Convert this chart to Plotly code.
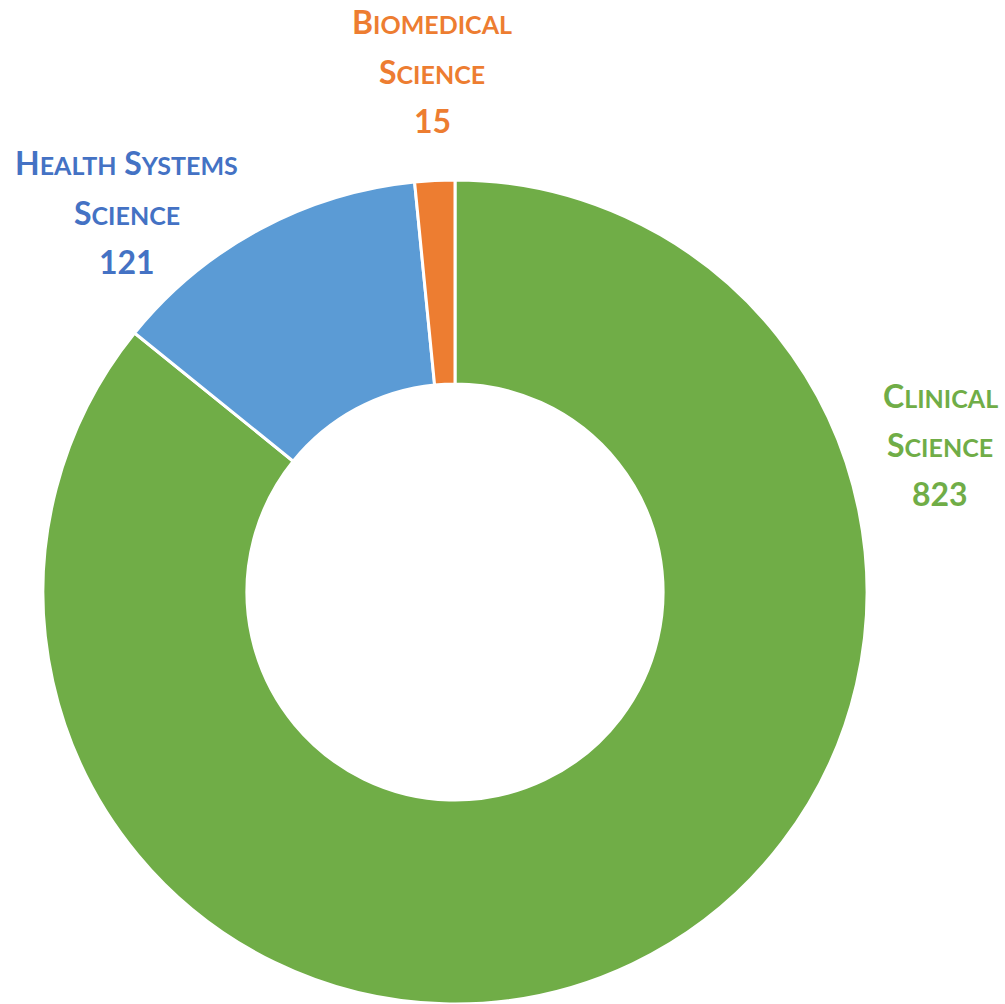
import plotly.graph_objects as go

categories = ["Clinical Science", "Health Systems Science", "Biomedical Science"]
counts = [823, 121, 15]
slice_colors = ["#70AD47", "#5B9BD5", "#ED7D31"]
label_colors = ["#70AD47", "#4472C4", "#ED7D31"]

W, H = 1005, 1004
CX, CY, R = 455, 592, 412

# label anchor (center of first line) in pixels
label_pos = [(940, 395), (127, 163), (432, 22)]
LINE_GAP = 49
BIG, SMALL = 32, 25


def small_caps(word):
    return word[0] + "<span style='font-size:%dpx'>%s</span>" % (SMALL, word[1:].upper())


def label_lines(name, value):
    words = name.split()
    if len(words) == 3:
        first = " ".join(small_caps(w) for w in words[:2])
        rest = words[2:]
    else:
        first = small_caps(words[0])
        rest = words[1:]
    return [first, " ".join(small_caps(w) for w in rest), str(value)]


fig = go.Figure(
    go.Pie(
        labels=categories,
        values=counts,
        hole=0.505,
        sort=False,
        direction="clockwise",
        rotation=0,
        marker=dict(colors=slice_colors, line=dict(color="white", width=3)),
        textinfo="none",
        hoverinfo="label+value",
        domain=dict(x=[(CX - R) / W, (CX + R) / W], y=[(H - CY - R) / H, (H - CY + R) / H]),
    )
)

annotations = []
for name, value, color, (px, py) in zip(categories, counts, label_colors, label_pos):
    for i, line in enumerate(label_lines(name, value)):
        annotations.append(
            dict(
                text=line,
                x=px / W,
                y=1 - (py + i * LINE_GAP) / H,
                xref="paper",
                yref="paper",
                xanchor="center",
                yanchor="middle",
                showarrow=False,
                font=dict(family="Lato", size=BIG, color=color, weight="bold"),
            )
        )

fig.update_layout(
    width=W,
    height=H,
    margin=dict(l=0, r=0, t=0, b=0),
    paper_bgcolor="white",
    showlegend=False,
    annotations=annotations,
)

fig.write_html(
    "out.html",
    config={"displayModeBar": False},
    post_script="document.body.style.margin='0';document.body.style.overflow='hidden';",
)
